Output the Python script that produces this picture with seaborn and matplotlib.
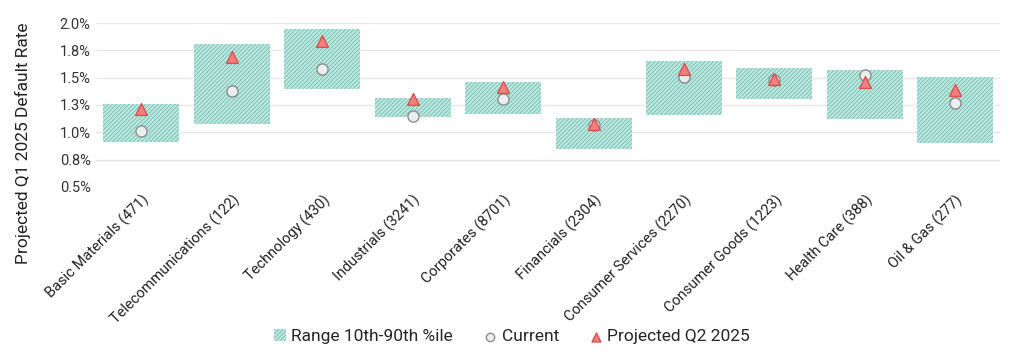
import pandas as pd
import seaborn as sns
import matplotlib.pyplot as plt

# sectors (obligor counts in brackets)
sectors = ['Basic Materials (471)', 'Telecommunications (122)', 'Technology (430)',
           'Industrials (3241)', 'Corporates (8701)', 'Financials (2304)',
           'Consumer Services (2270)', 'Consumer Goods (1223)', 'Health Care (388)',
           'Oil & Gas (277)']
p10 = [0.91, 1.08, 1.40, 1.14, 1.17, 0.85, 1.16, 1.30, 1.12, 0.90]
p90 = [1.26, 1.81, 1.95, 1.31, 1.46, 1.13, 1.65, 1.59, 1.57, 1.51]
current = [1.01, 1.38, 1.58, 1.15, 1.30, 1.07, 1.51, 1.48, 1.52, 1.27]
projected = [1.21, 1.69, 1.84, 1.30, 1.41, 1.08, 1.58, 1.49, 1.46, 1.39]

yticks = [0.5, 0.75, 1.0, 1.25, 1.5, 1.75, 2.0]
ytick_labels = ['0.5%', '0.8%', '1.0%', '1.3%', '1.5%', '1.8%', '2.0%']

df = pd.DataFrame({'sector': sectors, 'p10': p10, 'p90': p90,
                   'current': current, 'projected': projected})
df['spread'] = df.p90 - df.p10

sns.set_theme(style='white')
plt.rcParams['font.family'] = ['Roboto', 'DejaVu Sans']
plt.rcParams['hatch.linewidth'] = 0.6

fig, ax = plt.subplots(figsize=(10.24, 3.6), dpi=100)
fig.subplots_adjust(left=0.094, right=0.977, top=0.936, bottom=0.481)

# range boxes
sns.barplot(data=df, x='sector', y='spread', bottom=df.p10, order=sectors,
            color='#bde6de', saturation=1, width=0.84, errorbar=None,
            edgecolor='#72c2b2', linewidth=0, hatch='////////',
            label='Range 10th-90th %ile', ax=ax)

sns.stripplot(data=df, x='sector', y='current', order=sectors, jitter=False,
              marker='o', size=8, color='#e9eff1', edgecolor='#8c8c8c',
              linewidth=1, label='Current', ax=ax, zorder=3)
sns.stripplot(data=df, x='sector', y='projected', order=sectors, jitter=False,
              marker='^', size=8.5, color='#f47f7f', edgecolor='#d9504c',
              linewidth=1, label='Projected Q2 2025', ax=ax, zorder=4)

ax.set_ylim(0.5, 2.0)
ax.set_yticks(yticks)
ax.set_yticklabels(ytick_labels, fontsize=10.5, color='#333333')
ax.set_xticks(range(len(sectors)))
ax.set_xticklabels(sectors, rotation=45, ha='right', rotation_mode='anchor',
                   fontsize=10.5, color='#222222')
ax.tick_params(axis='both', length=0, pad=4)
ax.yaxis.grid(True, color='#e6e6e6', linewidth=0.9)
ax.set_axisbelow(True)
ax.set_xlabel('')
ax.set_ylabel('')
sns.despine(ax=ax, left=True, bottom=True)

fig.text(0.022, 0.603, 'Projected Q1 2025 Default Rate', rotation=90,
         ha='center', va='center', fontsize=12.5, color='#222222')

handles, labels = ax.get_legend_handles_labels()
keep = {}
for h, l in zip(handles, labels):
    keep.setdefault(l, h)
if ax.get_legend():
    ax.get_legend().remove()
order = ['Range 10th-90th %ile', 'Current', 'Projected Q2 2025']
fig.legend([keep[l] for l in order], order, loc='lower center', ncol=3,
           bbox_to_anchor=(0.5, 0.0), frameon=False, fontsize=12.5,
           handlelength=0.7, handletextpad=0.3, columnspacing=1.8,
           markerscale=0.75)

fig.savefig('out.png', dpi=100)
